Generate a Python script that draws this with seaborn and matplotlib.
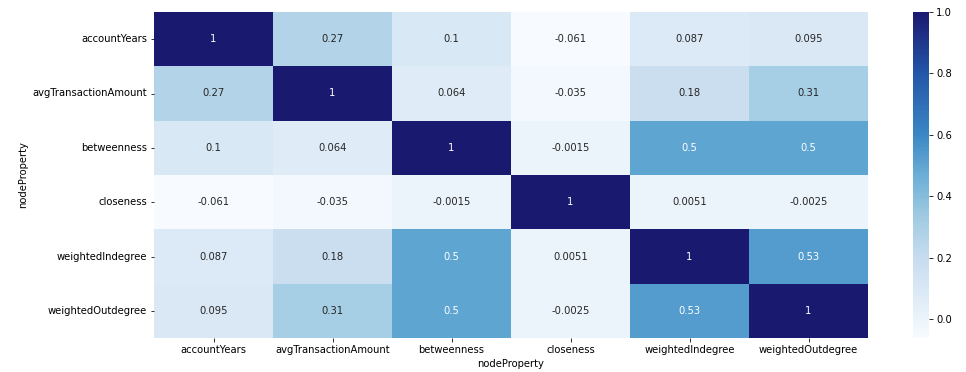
import numpy as np
import pandas as pd
import seaborn as sns
import matplotlib.pyplot as plt
from matplotlib.colors import LinearSegmentedColormap

props = ['accountYears', 'avgTransactionAmount', 'betweenness',
         'closeness', 'weightedIndegree', 'weightedOutdegree']

accountYears = [1, 0.27, 0.1, -0.061, 0.087, 0.095]
avgTransactionAmount = [0.27, 1, 0.064, -0.035, 0.18, 0.31]
betweenness = [0.1, 0.064, 1, -0.0015, 0.5, 0.5]
closeness = [-0.061, -0.035, -0.0015, 1, 0.0051, -0.0025]
weightedIndegree = [0.087, 0.18, 0.5, 0.0051, 1, 0.53]
weightedOutdegree = [0.095, 0.31, 0.5, -0.0025, 0.53, 1]

corr = pd.DataFrame([accountYears, avgTransactionAmount, betweenness,
                     closeness, weightedIndegree, weightedOutdegree],
                    index=pd.Index(props, name='nodeProperty'),
                    columns=pd.Index(props, name='nodeProperty'))

# Blues-like ramp ending in midnight blue
cmap = LinearSegmentedColormap.from_list(
    'blues_navy',
    [(0.0, '#f7fbff'), (0.125, '#deebf7'), (0.25, '#c6dbef'),
     (0.375, '#9ecae1'), (0.5, '#6baed6'), (0.625, '#3a87c4'),
     (0.81, '#2457a8'), (1.0, '#191970')])

plt.rcParams['font.size'] = 10
fig = plt.figure(figsize=(966 / 72, 372 / 72), dpi=72)
ax = fig.add_axes([154 / 966, 34 / 372, 714 / 966, 326 / 372])
cax = fig.add_axes([913 / 966, 34 / 372, 16 / 966, 326 / 372])
sns.heatmap(corr, annot=True, cmap=cmap, ax=ax, cbar_ax=cax)
ax.set_xlabel('nodeProperty')
ax.set_ylabel('nodeProperty')
plt.savefig('out.png', dpi=72)
